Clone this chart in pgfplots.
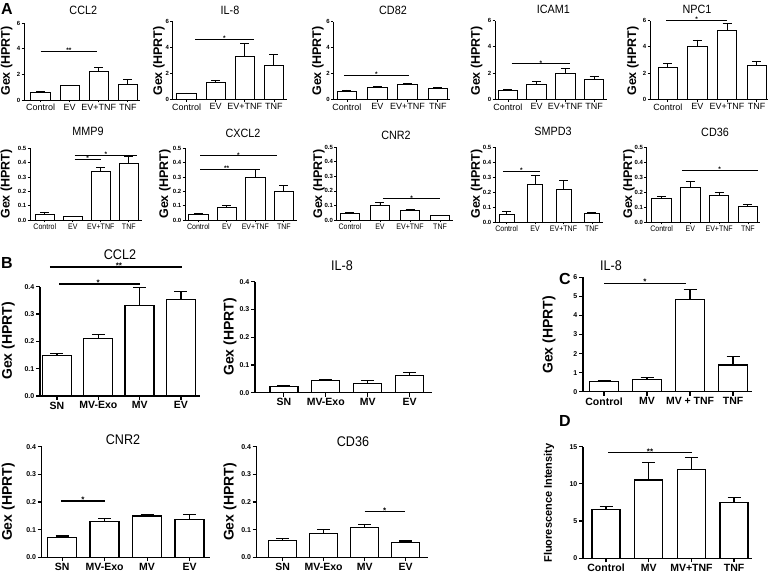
\documentclass[border=0pt]{standalone}
\usepackage{pgfplots}
\pgfplotsset{compat=1.18}
\usepackage{fontspec}
\setmainfont{Liberation Sans}

\pgfplotsset{
  common/.style={scale only axis, ybar, bar shift=0pt,
    axis x line=bottom, axis y line=left,
    ymin=0, clip=false, enlargelimits=false,
    xtick={0,1,2,3}, tick align=outside,
    /pgf/number format/assume math mode=true},
  sA/.style={common, axis line style={-, line width=0.9pt, black},
    tick style={line width=0.8pt, black}, major tick length=2.5pt, bar width=19.5pt,
    xticklabels={Control,EV,EV+TNF,TNF},
    y tick label style={font=\fontsize{6}{6}\selectfont\bfseries, inner sep=1pt}},
  sA1/.style={sA, ymax=6, ytick={0,2,4,6},
    x tick label style={font=\fontsize{9}{9}\selectfont, inner sep=1.5pt}},
  sA2/.style={sA, ymax=0.5, ytick={0,0.1,0.2,0.3,0.4,0.5},
    yticklabels={0.0,0.1,0.2,0.3,0.4,0.5},
    x tick label style={font=\fontsize{8}{8}\selectfont, inner sep=1.5pt, xscale=0.88}},
  sB/.style={common, axis line style={-, line width=1.4pt, black},
    tick style={line width=1.2pt, black}, major tick length=4pt,
    x tick label style={font=\fontsize{10.5}{11}\selectfont\bfseries, inner sep=1.5pt},
    y tick label style={font=\fontsize{7}{7}\selectfont\bfseries, inner sep=1.5pt}},
  sBB/.style={sB, ymax=0.4, ytick={0,0.1,0.2,0.3,0.4},
    yticklabels={0.0,0.1,0.2,0.3,0.4}, xticklabels={SN,MV-Exo,MV,EV}},
  barA/.style={fill=white, draw=black, line width=0.9pt,
    error bars/.cd, y dir=plus, y explicit,
    error bar style={line width=0.9pt, black},
    error mark options={rotate=90, line width=0.9pt, mark size=4.5pt, black}},
  barB/.style={fill=white, draw=black, line width=1.4pt,
    error bars/.cd, y dir=plus, y explicit,
    error bar style={line width=1.3pt, black},
    error mark options={rotate=90, line width=1.3pt, mark size=6.5pt, black}},
}
\tikzset{
  starA/.style={font=\fontsize{6.5}{6.5}\selectfont\bfseries, anchor=base, inner sep=0pt, yshift=-1.2pt},
  starB/.style={font=\fontsize{8}{8}\selectfont\bfseries, anchor=base, inner sep=0pt, yshift=-1.5pt},
  ttlA/.style={font=\fontsize{12}{12}\selectfont, xscale=0.9},
  ttlB/.style={font=\fontsize{14}{14}\selectfont, xscale=0.9},
  letter/.style={font=\fontsize{16}{16}\selectfont\bfseries},
}
% \sigA{x1}{x2}{y}{xmid}{stars}
\newcommand{\sigA}[5]{\draw[line width=0.9pt] (axis cs:#1,#3) -- (axis cs:#2,#3); \node[starA] at (axis cs:#4,#3) {#5};}
\newcommand{\sigB}[5]{\draw[line width=1.4pt] (axis cs:#1,#3) -- (axis cs:#2,#3); \node[starB] at (axis cs:#4,#3) {#5};}

\begin{document}
\begin{tikzpicture}
\useasboundingbox (0,0) rectangle (773pt,575pt);

% ================= Panel A, row 1 =================
\begin{axis}[sA1, at={(24pt,475pt)}, anchor=south west, width=116pt, height=76.7pt, xmin=-0.575, xmax=3.42]
\addplot[barA] coordinates {(0,0.57) +- (0,0.1) (1,1.12) +- (0,0.05) (2,2.22) +- (0,0.34) (3,1.25) +- (0,0.37)};
\sigA{0}{1.93}{3.79}{0.97}{**}
\end{axis}

\begin{axis}[sA1, at={(172.7pt,475.7pt)}, anchor=south west, width=114.3pt, height=77.6pt, xmin=-0.48, xmax=3.45]
\addplot[barA] coordinates {(0,0.46) +- (0,0.03) (1,1.29) +- (0,0.13) (2,3.35) +- (0,0.98) (3,2.6) +- (0,0.85)};
\sigA{0.3}{2.3}{4.64}{1.3}{*}
\end{axis}

\begin{axis}[sA1, at={(333.3pt,475.7pt)}, anchor=south west, width=116.7pt, height=77.6pt, xmin=-0.45, xmax=3.40]
\addplot[barA] coordinates {(0,0.57) +- (0,0.15) (1,0.93) +- (0,0.07) (2,1.16) +- (0,0.03) (3,0.85) +- (0,0.08)};
\sigA{-0.1}{2.05}{1.88}{0.97}{*}
\end{axis}

\begin{axis}[sA1, at={(495pt,475.7pt)}, anchor=south west, width=111.7pt, height=78.6pt, xmin=-0.45, xmax=3.44]
\addplot[barA] coordinates {(0,0.66) +- (0,0.1) (1,1.15) +- (0,0.2) (2,1.98) +- (0,0.34) (3,1.53) +- (0,0.25)};
\sigA{0.13}{2.16}{2.7}{1.15}{*}
\end{axis}

\begin{axis}[sA1, at={(650pt,475.7pt)}, anchor=south west, width=118pt, height=78.6pt, xmin=-0.6, xmax=3.38]
\addplot[barA] coordinates {(0,2.44) +- (0,0.31) (1,4.02) +- (0,0.51) (2,5.24) +- (0,0.56) (3,2.57) +- (0,0.31)};
\sigA{-0.06}{1.99}{6.0}{0.97}{*}
\end{axis}

% ================= Panel A, row 2 =================
\begin{axis}[sA2, at={(30pt,355pt)}, anchor=south west, width=111.7pt, height=71.7pt, xmin=-0.53, xmax=3.46]
\addplot[barA] coordinates {(0,0.042) +- (0,0.01) (1,0.025) +- (0,0.002) (2,0.342) +- (0,0.025) (3,0.395) +- (0,0.047)};
\sigA{1.06}{3.3}{0.453}{2.18}{*}
\sigA{1.06}{2.0}{0.423}{1.53}{*}
\end{axis}

\begin{axis}[sA2, at={(185pt,355pt)}, anchor=south west, width=111.7pt, height=71.7pt, xmin=-0.47, xmax=3.45]
\addplot[barA] coordinates {(0,0.04) +- (0,0.003) (1,0.086) +- (0,0.012) (2,0.298) +- (0,0.055) (3,0.198) +- (0,0.042)};
\sigA{0.06}{2.75}{0.447}{1.4}{*}
\sigA{0.06}{1.92}{0.353}{0.99}{**}
\end{axis}

\begin{axis}[sA2, at={(336.7pt,355pt)}, anchor=south west, width=116.3pt, height=72.7pt, xmin=-0.44, xmax=3.43]
\addplot[barA] coordinates {(0,0.043) +- (0,0.008) (1,0.103) +- (0,0.019) (2,0.066) +- (0,0.008) (3,0.03) +- (0,0.004)};
\sigA{1.1}{3.0}{0.145}{2.05}{*}
\end{axis}

\begin{axis}[sA2, at={(495pt,353pt)}, anchor=south west, width=108.3pt, height=75pt, xmin=-0.41, xmax=3.4, bar width=15pt]
\addplot[barA] coordinates {(0,0.05) +- (0,0.02) (1,0.249) +- (0,0.058) (2,0.218) +- (0,0.06) (3,0.054) +- (0,0.007)};
\sigA{-0.13}{1.17}{0.338}{0.52}{*}
\end{axis}

\begin{axis}[sA2, at={(646.7pt,353pt)}, anchor=south west, width=113.3pt, height=75pt, xmin=-0.52, xmax=3.42]
\addplot[barA] coordinates {(0,0.16) +- (0,0.013) (1,0.233) +- (0,0.04) (2,0.176) +- (0,0.024) (3,0.102) +- (0,0.014)};
\sigA{0.7}{3.35}{0.344}{2.02}{*}
\end{axis}

% ================= Panel B =================
\begin{axis}[sBB, at={(40pt,179pt)}, anchor=south west, width=160pt, height=109.3pt, xmin=-0.41, xmax=3.46, bar width=29pt]
\addplot[barB] coordinates {(0,0.148) +- (0,0.008) (1,0.21) +- (0,0.016) (2,0.332) +- (0,0.066) (3,0.354) +- (0,0.028)};
\sigB{-0.17}{3.02}{0.472}{1.5}{**}
\sigB{0.05}{2.0}{0.41}{1.0}{*}
\end{axis}

\begin{axis}[sBB, at={(255pt,182.3pt)}, anchor=south west, width=176.7pt, height=111pt, xmin=-0.69, xmax=3.53, bar width=28pt]
\addplot[barB] coordinates {(0,0.022) +- (0,0.003) (1,0.043) +- (0,0.005) (2,0.034) +- (0,0.01) (3,0.063) +- (0,0.009)};
\end{axis}

\begin{axis}[sBB, at={(41.7pt,17.7pt)}, anchor=south west, width=168.3pt, height=110.6pt, xmin=-0.48, xmax=3.48, bar width=29pt]
\addplot[barB] coordinates {(0,0.071) +- (0,0.006) (1,0.130) +- (0,0.010) (2,0.149) +- (0,0.006) (3,0.137) +- (0,0.018)};
\sigB{-0.03}{1.01}{0.204}{0.49}{*}
\end{axis}

\begin{axis}[sBB, at={(256.7pt,17.7pt)}, anchor=south west, width=171.6pt, height=110.6pt, xmin=-0.63, xmax=3.55, bar width=28pt]
\addplot[barB] coordinates {(0,0.061) +- (0,0.007) (1,0.087) +- (0,0.014) (2,0.108) +- (0,0.01) (3,0.054) +- (0,0.005)};
\sigB{2.0}{2.98}{0.165}{2.49}{*}
\end{axis}

% ================= Panel C =================
\begin{axis}[sB, at={(583pt,183.3pt)}, anchor=south west, width=169pt, height=114.4pt, xmin=-0.49, xmax=3.44, bar width=29pt,
  ymax=6, ytick={0,1,2,3,4,5,6}, xticklabels={Control,MV,MV + TNF,TNF}]
\addplot[barB] coordinates {(0,0.55) +- (0,0.02) (1,0.63) +- (0,0.1) (2,4.85) +- (0,0.5) (3,1.4) +- (0,0.45)};
\sigB{0.0}{1.9}{5.68}{0.95}{*}
\end{axis}

% ================= Panel D =================
\begin{axis}[sB, at={(583pt,16.7pt)}, anchor=south west, width=169pt, height=111.6pt, xmin=-0.54, xmax=3.42, bar width=28pt,
  ymax=15, ytick={0,5,10,15}, xticklabels={Control,MV,MV+TNF,TNF}]
\addplot[barB] coordinates {(0,6.55) +- (0,0.45) (1,10.55) +- (0,2.35) (2,11.95) +- (0,1.6) (3,7.49) +- (0,0.7)};
\sigB{0.05}{2.02}{14.2}{1.03}{**}
\end{axis}

% ================= Titles, panel letters, y labels =================
\node[letter] at (7pt,566pt) {A};
\node[letter] at (7pt,312pt) {B};
\node[letter] at (565pt,296pt) {C};
\node[letter] at (565pt,154pt) {D};

\node[ttlA] at (83.3pt,565pt) {CCL2};
\node[ttlA] at (230pt,565pt) {IL-8};
\node[ttlA] at (393pt,565pt) {CD82};
\node[ttlA] at (553.3pt,566pt) {ICAM1};
\node[ttlA] at (697pt,566pt) {NPC1};
\node[ttlA] at (88pt,444pt) {MMP9};
\node[ttlA] at (243pt,442pt) {CXCL2};
\node[ttlA] at (396pt,440pt) {CNR2};
\node[ttlA] at (553pt,444pt) {SMPD3};
\node[ttlA] at (715pt,443pt) {CD36};

\node[ttlB] at (120pt,320pt) {CCL2};
\node[ttlB] at (342pt,309pt) {IL-8};
\node[ttlB] at (123pt,135pt) {CNR2};
\node[ttlB] at (353pt,133pt) {CD36};
\node[ttlB] at (611pt,309pt) {IL-8};

\foreach \x in {6.7,159,318,476.7,633}
  \node[rotate=90, font=\fontsize{12.5}{13}\selectfont\bfseries] at (\x pt,514pt) {Gex (HPRT)};
\foreach \x in {6.5,165,319,476.7,629}
  \node[rotate=90, font=\fontsize{12.5}{13}\selectfont\bfseries] at (\x pt,391pt) {Gex (HPRT)};
\node[rotate=90, font=\fontsize{14}{14}\selectfont\bfseries] at (8.3pt,234pt) {Gex (HPRT)};
\node[rotate=90, font=\fontsize{14}{14}\selectfont\bfseries] at (230pt,238pt) {Gex (HPRT)};
\node[rotate=90, font=\fontsize{14}{14}\selectfont\bfseries] at (8.3pt,73pt) {Gex (HPRT)};
\node[rotate=90, font=\fontsize{14}{14}\selectfont\bfseries] at (230pt,73pt) {Gex (HPRT)};
\node[rotate=90, font=\fontsize{14}{14}\selectfont\bfseries] at (549pt,240pt) {Gex (HPRT)};
\node[rotate=90, font=\fontsize{11}{11}\selectfont\bfseries] at (549pt,72pt) {Fluorescence Intensity};
\end{tikzpicture}
\end{document}
